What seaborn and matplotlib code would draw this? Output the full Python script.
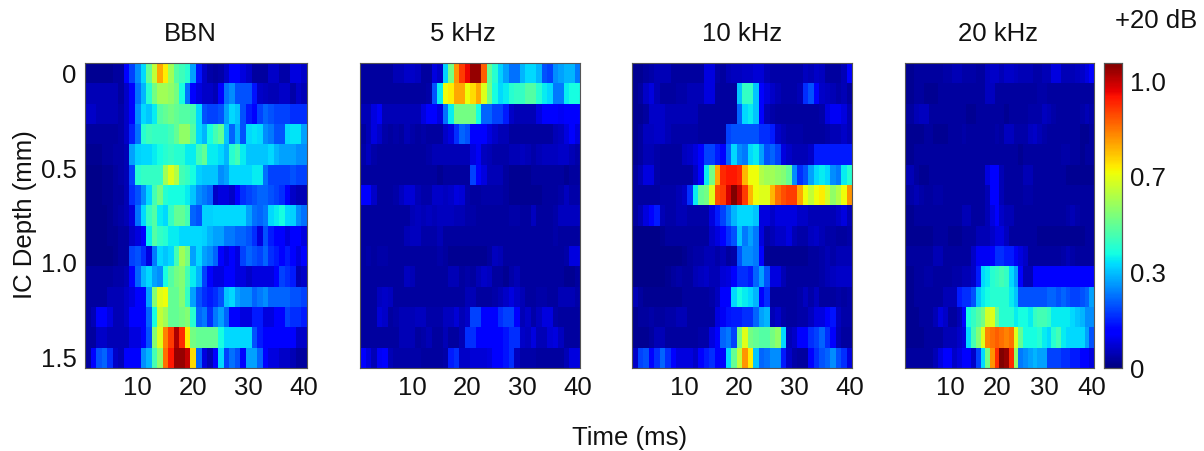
import numpy as np
import matplotlib
matplotlib.use("Agg")
import matplotlib.pyplot as plt
import seaborn as sns

# values in hundredths of the colour scale, 15 depths x 40 ms bins
BBN = [
    [2,2,2,2,2,3,3,12,20,28, 36,50,62,78,70,58,48,45,42,30, 15,7,4,3,4,7,12,12,9,7, 3,3,3,7,7,4,4,9,9,7],
    [5,5,5,5,5,5,3,7,12,25, 32,42,52,58,58,56,52,40,25,12, 9,7,7,5,12,25,28,22,22,22, 15,7,6,5,5,7,7,4,7,5],
    [7,7,5,5,5,5,4,7,12,28, 36,34,38,48,50,52,50,48,48,46, 36,22,20,20,22,30,36,34,22,16, 12,20,24,22,20,20,20,18,18,18],
    [3,3,3,3,3,3,4,7,17,25, 42,45,44,44,44,46,50,56,56,48, 36,32,40,46,50,34,24,32,22,36, 37,36,28,26,22,22,36,37,37,30],
    [2,2,2,3,3,4,4,5,30,35, 36,36,38,40,42,44,42,42,38,38, 46,50,38,38,36,32,42,46,38,34, 34,34,34,36,32,30,30,30,28,28],
    [1,1,1,2,2,3,4,5,20,42, 44,44,44,44,58,66,60,46,44,40, 35,34,34,34,28,30,36,36,36,36, 38,38,25,20,20,20,20,22,20,20],
    [1,1,1,2,2,3,3,5,18,22, 28,36,46,52,42,40,40,40,38,34, 28,26,24,7,9,9,7,12,18,20, 22,24,24,22,20,18,12,7,5,5],
    [1,1,1,1,2,3,4,5,9,25, 36,44,48,38,36,44,50,50,46,24, 22,35,35,36,36,36,36,36,36,30, 25,24,26,36,38,40,36,35,28,25],
    [1,1,1,1,2,2,3,3,7,9, 12,38,48,44,42,38,38,36,36,36, 36,35,32,30,30,26,26,24,24,22, 18,9,22,16,12,12,9,12,12,9],
    [1,1,1,1,1,2,3,3,20,22, 18,9,26,36,34,36,46,58,52,30, 36,30,28,24,12,9,12,9,20,24, 22,20,24,18,16,12,16,12,9,12],
    [3,3,3,3,3,4,4,5,12,24, 32,36,30,28,40,48,52,54,46,38, 32,20,12,9,9,12,12,9,9,7, 9,9,9,9,12,20,18,16,5,7],
    [3,3,3,3,5,5,5,7,9,12, 12,30,54,66,68,50,50,54,44,30, 22,18,16,18,22,34,36,30,28,28, 24,26,28,24,24,24,24,22,22,20],
    [3,5,12,12,9,5,5,7,12,12, 12,24,40,62,58,50,50,52,54,42, 24,26,18,26,30,24,12,12,9,9, 16,16,9,9,12,12,20,18,18,16],
    [3,3,7,7,5,5,5,5,9,9, 12,22,54,66,82,90,102,92,70,52, 50,50,50,50,40,36,36,36,36,36, 22,16,12,12,12,12,12,12,7,7],
    [3,12,22,24,18,7,5,12,12,12, 28,32,46,56,84,94,104,104,100,72, 24,9,5,12,36,20,25,22,12,30, 30,24,12,9,9,7,7,5,3,3],
]

KHZ5 = [
    [3,3,3,3,3,3,5,5,7,7, 6,3,3,9,7,35,52,80,90,96, 104,104,86,50,42,35,30,25,25,32, 36,36,32,22,20,28,30,32,32,26],
    [3,3,3,3,3,3,3,3,3,3, 3,3,4,22,38,68,70,78,78,68, 72,78,66,52,40,36,38,42,44,44, 48,48,42,38,36,26,26,38,40,40],
    [5,5,9,11,5,5,5,5,5,5, 5,9,12,12,9,25,38,52,52,52, 52,40,24,24,20,20,16,7,5,5, 5,5,9,12,12,12,11,12,12,12],
    [3,5,9,7,4,3,4,3,5,4, 3,4,3,3,3,7,9,18,24,22, 12,12,12,9,7,5,5,3,3,3, 3,3,3,3,3,5,6,9,12,9],
    [4,6,4,3,3,3,3,3,3,3, 3,3,4,5,5,5,5,5,5,5, 9,11,6,5,4,4,4,5,5,6, 5,4,5,6,6,6,7,7,5,4],
    [3,3,3,3,3,3,3,3,3,3, 3,3,3,3,2,3,3,3,3,3, 20,12,9,5,5,5,3,2,2,2, 2,3,3,3,3,3,3,2,3,3],
    [12,12,7,3,3,3,4,6,8,8, 5,4,4,7,7,6,7,9,8,4, 3,3,4,4,4,4,3,2,2,2, 2,2,2,3,3,3,4,6,4,4],
    [3,3,3,3,3,3,3,3,3,5, 6,5,6,5,6,6,6,5,5,4, 4,3,3,3,3,3,3,4,4,3, 3,6,3,3,3,4,6,6,6,6],
    [3,3,3,3,3,3,3,3,5,6, 6,4,4,4,5,3,3,3,3,3, 3,3,3,3,3,3,3,3,3,3, 3,3,3,3,3,4,3,3,3,3],
    [3,4,3,4,4,3,3,3,3,3, 3,3,3,3,4,3,2,2,2,2, 2,2,2,3,6,5,3,3,3,3, 3,3,3,3,3,3,3,4,9,9],
    [3,3,3,3,3,3,3,3,6,5, 3,3,3,3,3,3,5,5,3,4, 3,5,7,6,3,3,2,4,5,3, 3,3,3,3,3,3,3,2,2,3],
    [3,3,3,6,7,6,3,3,3,3, 3,3,3,3,3,3,3,3,3,5, 5,3,3,3,4,5,7,9,7,5, 3,3,4,4,3,3,5,5,5,4],
    [3,3,3,8,7,3,4,5,5,5, 6,6,4,4,4,6,6,8,5,7, 20,20,12,12,12,18,20,20,12,5, 7,4,6,9,9,4,3,3,3,3],
    [3,3,3,3,3,3,3,5,5,5, 3,4,5,3,3,5,3,3,5,18, 18,12,12,12,12,12,15,18,18,7, 6,9,5,5,8,9,6,3,3,3],
    [12,9,5,11,12,5,4,4,4,4, 4,3,3,3,3,4,16,18,7,7, 8,8,8,9,12,12,15,18,6,4, 4,4,3,3,3,3,3,5,9,9],
]

KHZ10 = [
    [2,2,3,4,5,5,5,3,3,3, 3,3,3,9,9,4,3,5,6,6, 7,7,8,8,5,4,4,4,4,4, 4,6,5,7,6,3,3,3,5,12],
    [2,3,7,9,5,3,3,3,4,4, 5,5,5,9,9,3,3,3,3,34, 44,44,34,12,9,7,5,4,4,4, 5,18,22,12,7,6,5,4,5,3],
    [2,2,3,7,7,7,5,5,5,5, 5,5,3,3,3,3,3,3,3,24, 36,38,34,12,5,4,3,3,3,3, 3,3,3,3,4,9,11,11,9,5],
    [2,3,6,6,7,7,5,4,4,4, 4,4,3,3,3,3,3,20,22,22, 22,22,22,18,18,16,7,5,4,4, 4,3,3,3,3,4,5,5,7,5],
    [2,3,5,5,4,3,3,3,3,6, 7,9,12,20,20,16,12,24,36,28, 26,36,38,30,22,24,20,9,7,5, 5,5,7,16,16,16,16,16,16,16],
    [3,5,9,9,4,3,3,3,3,3, 3,7,12,38,52,78,92,94,94,92, 76,68,68,60,58,58,56,54,50,28, 18,22,30,36,38,36,28,26,38,42],
    [3,3,3,3,3,4,4,4,5,7, 18,38,50,52,66,88,90,98,106,100, 90,76,68,66,66,76,84,88,90,90, 78,68,62,68,70,64,56,60,68,80],
    [3,5,9,12,16,5,4,4,5,5, 4,4,4,4,9,16,20,26,32,36, 36,36,34,9,9,7,9,9,9,9, 7,7,5,5,5,5,5,7,9,5],
    [1,1,1,1,1,2,3,3,3,3, 3,3,3,3,7,9,12,18,22,34, 26,30,26,9,4,5,7,7,9,5, 4,4,6,7,5,4,4,3,3,4],
    [1,1,1,1,1,1,1,1,1,2, 3,4,4,5,5,4,5,3,4,22, 28,28,26,12,2,2,2,2,2,2, 2,2,3,3,4,5,4,5,5,5],
    [1,1,1,1,1,1,2,3,4,3, 3,5,6,7,5,5,8,9,12,18, 18,16,24,30,22,9,9,5,3,3, 3,3,3,3,4,5,6,7,7,7],
    [5,3,2,2,2,2,2,2,2,3, 3,3,3,3,4,6,12,12,36,40, 38,36,32,12,18,3,3,3,3,3, 4,6,4,6,3,3,3,4,3,4],
    [2,3,3,4,3,3,4,4,5,5, 3,3,3,3,3,9,11,15,16,16, 18,18,24,30,32,5,7,4,3,3, 4,4,6,9,9,12,15,6,4,4],
    [2,2,2,3,5,5,3,3,3,3, 3,3,4,4,9,12,24,26,20,52, 66,52,50,48,48,52,56,36,5,7, 12,12,18,20,24,18,12,5,3,3],
    [7,20,22,12,18,24,18,12,9,9, 9,7,12,16,18,12,12,36,50,62, 80,70,34,24,25,28,28,16,7,4, 3,3,12,18,22,24,28,22,18,9],
]

KHZ20 = [
    [2,2,3,3,3,3,3,3,4,4, 5,5,4,4,4,3,3,6,7,7, 5,7,7,6,5,5,5,4,4,5, 5,9,9,5,5,5,6,7,9,12],
    [2,2,3,3,2,2,2,3,3,3, 3,3,3,3,3,3,3,6,6,3, 3,3,3,3,3,3,3,3,4,4, 3,3,3,3,3,3,3,3,3,3],
    [3,3,5,6,6,3,3,3,3,3, 3,3,3,2,2,3,3,3,3,3, 3,2,3,3,3,3,4,4,4,6, 5,4,3,3,3,3,3,4,5,4],
    [2,2,2,2,3,3,2,2,2,3, 3,3,4,3,3,3,3,3,3,4, 3,6,6,4,4,4,6,7,5,4, 3,3,3,3,3,3,3,2,2,3],
    [2,2,3,3,3,3,3,3,3,3, 3,3,3,3,3,3,3,3,3,3, 3,3,3,3,2,3,3,3,3,3, 3,3,3,4,4,3,3,2,3,3],
    [5,5,3,2,2,3,3,3,3,3, 3,3,3,3,3,3,3,9,12,12, 5,3,3,3,3,5,5,3,3,3, 3,3,3,3,2,2,2,2,2,2],
    [3,4,5,4,3,3,4,4,3,3, 3,3,3,3,3,3,3,5,12,12, 5,3,3,3,3,4,4,3,3,3, 3,3,3,3,3,3,3,3,3,3],
    [2,2,3,3,3,3,3,3,3,3, 3,3,5,5,3,3,3,5,9,12, 7,5,5,3,3,3,3,3,3,3, 3,3,3,3,4,5,4,3,3,3],
    [2,2,2,2,2,2,3,3,3,2, 2,2,3,3,3,5,5,5,7,9, 9,6,3,3,3,3,3,3,2,2, 2,2,2,2,2,2,2,2,3,3],
    [3,3,3,3,3,3,5,5,3,3, 3,3,3,3,7,11,11,11,12,18, 18,16,16,11,9,7,3,3,3,3, 3,3,3,4,5,4,3,3,3,3],
    [2,2,3,3,4,4,3,3,3,3, 4,4,5,5,7,16,36,38,42,44, 46,44,36,30,12,5,5,12,12,12, 12,12,12,12,12,12,12,12,12,12],
    [2,2,3,3,3,3,3,3,5,5, 5,16,18,18,22,34,38,40,42,42, 42,42,38,34,22,22,22,22,22,22, 24,24,22,24,22,20,20,22,24,30],
    [2,2,2,3,3,3,5,9,7,3, 3,5,12,40,44,48,52,64,66,50, 42,42,42,38,40,40,38,44,46,46, 44,38,38,38,38,36,34,32,28,28],
    [2,2,2,2,3,3,3,3,5,5, 5,7,9,36,46,54,66,82,84,86, 84,82,84,66,50,40,40,40,42,38, 36,42,46,38,36,36,36,36,30,22],
    [3,3,3,3,3,3,5,9,12,12, 7,9,12,12,7,20,36,52,80,92, 106,104,92,56,26,28,30,32,30,30, 20,20,20,18,18,16,16,12,12,9],
]

titles = ["BBN", "5 kHz", "10 kHz", "20 kHz"]
panels = [BBN, KHZ5, KHZ10, KHZ20]
x_ticks = [10, 20, 30, 40]
depth_ticks = [0, 0.5, 1.0, 1.5]
depth_labels = ["0", "0.5", "1.0", "1.5"]
cbar_ticks = [0, 1/3, 2/3, 1]
cbar_labels = ["0", "0.3", "0.7", "1.0"]
VMAX = 1.063

W, H = 1204, 451
# axes boxes in pixels: left, right, title centre
boxes = [(85, 307, 190), (360, 580, 463), (632, 852, 742), (905, 1094, 998)]
TOP, BOTTOM = 63, 368

sns.set_theme(style="white")
plt.rcParams["font.family"] = ["Liberation Sans", "DejaVu Sans"]
TXT = "#111111"
FS = 18.5

fig = plt.figure(figsize=(W / 100, H / 100), dpi=100)
cax = fig.add_axes([1104 / W, 1 - BOTTOM / H, 18 / W, (BOTTOM - TOP) / H])

for i, (data, name, (l, r, tc)) in enumerate(zip(panels, titles, boxes)):
    ax = fig.add_axes([l / W, 1 - BOTTOM / H, (r - l) / W, (BOTTOM - TOP) / H])
    arr = np.array(data) / 100
    last = i == len(panels) - 1
    sns.heatmap(arr, ax=ax, cmap="jet", vmin=0, vmax=VMAX, square=False,
                cbar=last, cbar_ax=cax if last else None,
                xticklabels=False, yticklabels=False)
    # heatmap cell centres sit at n + 0.5, time bins are 1..40 ms
    ax.set_xticks([t - 0.5 for t in x_ticks])
    ax.set_xticklabels([str(t) for t in x_ticks], rotation=0)
    ax.set_yticks([d / 1.5 * 14 + 0.5 for d in depth_ticks])
    if i == 0:
        ax.set_yticklabels(depth_labels, rotation=0)
    else:
        ax.set_yticklabels([])
    ax.tick_params(axis="both", direction="in", length=2.5, width=0.6, color="#222222",
                   top=True, right=True, bottom=True, left=True,
                   labelsize=FS, labelcolor=TXT, pad=6)
    for s in ax.spines.values():
        s.set_visible(True)
        s.set_linewidth(0.8)
        s.set_color("#555555")
    fig.text(tc / W, 1 - 34 / H, name, ha="center", va="center", fontsize=FS, color=TXT)

cax.set_yticks(cbar_ticks)
cax.set_yticklabels(cbar_labels)
cax.tick_params(axis="y", direction="in", length=3, width=0.6, color="#222222",
                right=True, left=False, labelsize=FS, labelcolor=TXT, pad=6)
for s in cax.spines.values():
    s.set_visible(True)
    s.set_linewidth(0.8)
    s.set_color("#555555")

fig.text(630 / W, 1 - 438 / H, "Time (ms)", ha="center", va="center", fontsize=FS, color=TXT)
fig.text(25 / W, 1 - 215 / H, "IC Depth (mm)", ha="center", va="center", rotation=90,
         fontsize=FS, color=TXT)
fig.text(1115 / W, 1 - 21 / H, "+20 dB", ha="left", va="center", fontsize=FS, color=TXT)

fig.savefig("out.png", dpi=100)
